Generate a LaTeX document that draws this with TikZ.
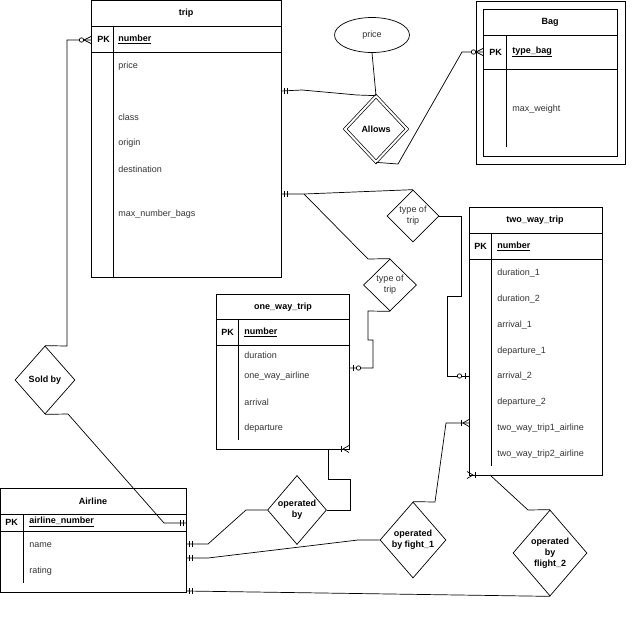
\documentclass[tikz,border=0pt]{standalone}
\usepackage{fontspec}
\setmainfont{Liberation Sans}
\usetikzlibrary{shapes.geometric,calc}

\tikzset{
  attr/.style={anchor=west,inner sep=0pt,text=black!80,font=\fontsize{9}{10}\selectfont},
  keyattr/.style={anchor=west,inner sep=0pt,font=\bfseries\fontsize{9}{10}\selectfont},
  ttl/.style={inner sep=0pt,font=\bfseries\fontsize{9}{10}\selectfont},
  rel/.style={draw,diamond,inner sep=0pt,align=center,font=\bfseries\fontsize{9}{11}\selectfont},
  mone/.pic={\draw (3,-3) -- (3,3) (6,-3) -- (6,3);},
  zone/.pic={\draw (4,-3) -- (4,3); \draw[fill=white] (9.5,0) circle (2.2pt);},
  zmany/.pic={\draw (0,-3.5) -- (7,0) -- (0,3.5); \draw[fill=white] (9.5,0) circle (2.2pt);},
  onemany/.pic={\draw (0,-3.5) -- (6,0) -- (0,3.5); \draw (8,-3) -- (8,3);}
}

\begin{document}
\begin{tikzpicture}[x=1pt,y=-1pt,line width=0.7pt]
  \useasboundingbox (0,0) rectangle (640,640);

  % trip
  \draw (91,0) rectangle (281,277);
  \draw (91,26) -- (281,26) (91,52) -- (281,52) (113,26) -- (113,277);
  \node[ttl] (tripT) at (186,13) {trip};
  \node[keyattr] (tripPK) at (97,39) {PK};
  \node[keyattr] (tripNo) at (118,39) {\underline{number}};
  \node[attr] at (118,66) {price};
  \node[attr] at (118,117) {class};
  \node[attr] at (118,143) {origin};
  \node[attr] at (118,169) {destination};
  \node[attr] at (118,214) {max\_number\_bags};

  % Bag
  \draw (476,1) rectangle (625,164);
  \draw (483,9) rectangle (617,156);
  \draw (483,35) -- (617,35) (483,69) -- (617,69) (506,35) -- (506,147);
  \node[ttl] (bagT) at (550,22) {Bag};
  \node[keyattr] at (489,52) {PK};
  \node[keyattr] at (512,52) {\underline{type\_bag}};
  \node[attr] at (512,109) {max\_weight};

  % one_way_trip
  \draw (216,294) rectangle (349,449);
  \draw (216,319) -- (349,319) (216,345) -- (349,345) (238,319) -- (238,440);
  \node[ttl] (oneT) at (283,307) {one\_way\_trip};
  \node[keyattr] at (221,332) {PK};
  \node[keyattr] at (244,332) {\underline{number}};
  \node[attr] at (244,355) {duration};
  \node[attr] at (244,376) {one\_way\_airline};
  \node[attr] at (244,402) {arrival};
  \node[attr] at (244,428) {departure};

  % two_way_trip
  \draw (469,207) rectangle (602,475);
  \draw (469,233) -- (602,233) (469,259) -- (602,259) (491,233) -- (491,466);
  \node[ttl] (twoT) at (535,220) {two\_way\_trip};
  \node[keyattr] at (474,246) {PK};
  \node[keyattr] at (497,246) {\underline{number}};
  \node[attr] at (497,273) {duration\_1};
  \node[attr] at (497,299) {duration\_2};
  \node[attr] at (497,325) {arrival\_1};
  \node[attr] at (497,351) {departure\_1};
  \node[attr] at (497,376) {arrival\_2};
  \node[attr] at (497,402) {departure\_2};
  \node[attr] at (497,428) {two\_way\_trip1\_airline};
  \node[attr] at (497,454) {two\_way\_trip2\_airline};

  % Airline
  \draw (0,488) rectangle (186,592);
  \draw (0,514) -- (186,514) (0,531) -- (186,531) (23,514) -- (23,583);
  \node[ttl] (airT) at (93,501) {Airline};
  \node[keyattr] at (5,522) {PK};
  \node[keyattr] at (29,522) {\underline{airline\_number}};
  \node[attr] at (29,545) {name};
  \node[attr] at (29,571) {rating};

  % relationships
  \node[draw,ellipse,inner sep=0pt,minimum width=75pt,minimum height=35pt,
    text=black!80,font=\fontsize{9}{10}\selectfont] (price) at (372,35) {price};
  \node[rel,double,double distance=2pt,minimum width=62pt,minimum height=66pt] (allows) at (376,129) {Allows};
  \node[rel,font=\fontsize{9}{11}\selectfont,text=black!80,minimum width=52pt,minimum height=52pt] (typeA) at (413,216) {type of\\trip};
  \node[rel,font=\fontsize{9}{11}\selectfont,text=black!80,minimum width=53pt,minimum height=52pt] (typeB) at (390,285) {type of\\trip};
  \node[rel,minimum width=60pt,minimum height=68pt] (soldby) at (45,380) {Sold by};
  \node[rel,minimum width=59pt,minimum height=69pt] (opby) at (297,510) {operated\\by};
  \node[rel,minimum width=66pt,minimum height=76pt] (opfA) at (413,540) {operated\\by fight\_1};
  \node[rel,minimum width=74pt,minimum height=86pt] (opfB) at (550,553) {operated\\by\\flight\_2};

  % attachment points
  \coordinate (tripA) at (281,91);
  \coordinate (tripB) at (281,194);
  \coordinate (tripC) at (91,40);
  \coordinate (bagA) at (483,52);
  \coordinate (oneA) at (349,368);
  \coordinate (oneB) at (328,449);
  \coordinate (twoA) at (469,376);
  \coordinate (twoB) at (469,423);
  \coordinate (twoC) at (490,475);
  \coordinate (airA) at (186,523);
  \coordinate (airB) at (186,544);
  \coordinate (airC) at (186,558);
  \coordinate (airD) at (186,591);

  % connectors
  \draw (tripA) -- (302,90) -- (357,95) -- (allows.north);
  \draw (price.south) -- (allows.north);
  \draw (allows.south) -- (398,164) -- (462,52) -- (bagA);
  \draw (tripB) -- (304,194) -- (typeA.north);
  \draw (304,194) -- (368,259) -- (typeB.north);
  \draw (typeA.east) -- (461,216) -- (461,296) -- (447,296) |- (twoA);
  \draw (typeB.south) -- (368,311) -- (368,340) -- (373,340) |- (oneA);
  \draw (tripC) -- (67,40) -- (67,346) -- (soldby.north);
  \draw (soldby.south) -- (68,414) -- (164,523) -- (airA);
  \draw (airB) -- (208,544) -- (246,510) -- (opby.west);
  \draw (opby.east) -- (350,510) -- (350,479) -- (328,479) -- (oneB);
  \draw (airC) -- (208,558) -- (358,540) -- (opfA.west);
  \draw (opfA.north) -- (435,502) -- (446,423) -- (twoB);
  \draw (airD) -- (opfB.south);
  \draw (opfB.north) -- (528,510) -- (twoC);

  % cardinality marks
  \pic at (tripA) {mone};
  \pic at (tripB) {mone};
  \pic[rotate=180] at (tripC) {zmany};
  \pic[rotate=180] at (bagA) {zmany};
  \pic at (oneA) {zone};
  \pic[rotate=180] at (twoA) {zone};
  \pic[rotate=180] at (349,449) {onemany};
  \pic[rotate=180] at (twoB) {onemany};
  \pic at (467,475) {onemany};
  \pic[rotate=180] at (airA) {mone};
  \pic at (airB) {mone};
  \pic at (airC) {mone};
  \pic at (airD) {mone};
\end{tikzpicture}
\end{document}
